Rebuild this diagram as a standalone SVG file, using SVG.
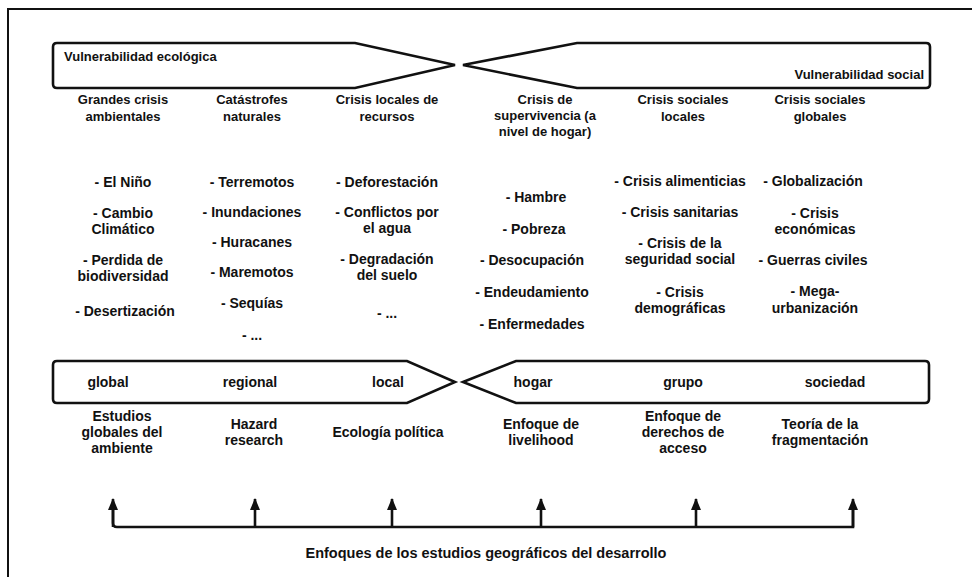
<svg xmlns="http://www.w3.org/2000/svg" width="972" height="577" viewBox="0 0 972 577">
<defs>
<style>
text{font-family:"Liberation Sans",Arial,sans-serif;font-size:13px;font-weight:bold;fill:#111;text-anchor:middle}
.l{text-anchor:start}.r{text-anchor:end}
.it{font-size:14px}
.ap{font-size:14px}
.sc{font-size:14px}
.ft{font-size:14.5px}
.band{fill:#fff;stroke:#111;stroke-width:2.6;stroke-linejoin:miter}
.frame{fill:none;stroke:#111;stroke-width:2}
.conn{fill:none;stroke:#111;stroke-width:2.6}
</style>
<marker id="ah" viewBox="0 0 12 10" refX="11" refY="5" markerWidth="12" markerHeight="10" markerUnits="userSpaceOnUse" orient="auto">
<path d="M0,0 L12,5 L0,10 Z" fill="#111"/>
</marker>
</defs>
<rect width="972" height="577" fill="#fff"/>
<path class="frame" d="M8,577 V9 H972"/>

<g id="vuln-eco">
<path class="band" d="M57,43 H355 L455,65 L355,88 H57 Q53,88 53,84 V47 Q53,43 57,43 Z"/>
<text class="l" x="64" y="61">Vulnerabilidad ecológica</text>
</g>
<g id="vuln-soc">
<path class="band" d="M463,65 L577,43 H926 Q930,43 930,47 V84 Q930,88 926,88 H577 Z"/>
<text class="r" x="924" y="79">Vulnerabilidad social</text>
</g>

<g id="col1">
<text x="123" y="104">Grandes crisis</text>
<text x="123" y="121">ambientales</text>
<text class="it" x="123" y="187">- El Niño</text>
<text class="it" x="123" y="218">- Cambio</text>
<text class="it" x="123" y="234">Climático</text>
<text class="it" x="123" y="265">- Perdida de</text>
<text class="it" x="123" y="281">biodiversidad</text>
<text class="it" x="125" y="316">- Desertización</text>
</g>
<g id="col2">
<text x="252" y="104">Catástrofes</text>
<text x="252" y="121">naturales</text>
<text class="it" x="252" y="187">- Terremotos</text>
<text class="it" x="252" y="217">- Inundaciones</text>
<text class="it" x="252" y="247">- Huracanes</text>
<text class="it" x="252" y="277">- Maremotos</text>
<text class="it" x="252" y="308">- Sequías</text>
<text class="it" x="252" y="340">- ...</text>
</g>
<g id="col3">
<text x="387" y="104">Crisis locales de</text>
<text x="387" y="121">recursos</text>
<text class="it" x="387" y="187">- Deforestación</text>
<text class="it" x="387" y="217">- Conflictos por</text>
<text class="it" x="387" y="233">el agua</text>
<text class="it" x="387" y="264">- Degradación</text>
<text class="it" x="387" y="280">del suelo</text>
<text class="it" x="387" y="318">- ...</text>
</g>
<g id="col4">
<text x="545" y="104">Crisis de</text>
<text x="545" y="120">supervivencia (a</text>
<text x="545" y="136">nivel de hogar)</text>
<text class="it" x="536" y="202">- Hambre</text>
<text class="it" x="534" y="234">- Pobreza</text>
<text class="it" x="532" y="265">- Desocupación</text>
<text class="it" x="532" y="297">- Endeudamiento</text>
<text class="it" x="532" y="329">- Enfermedades</text>
</g>
<g id="col5">
<text x="683" y="104">Crisis sociales</text>
<text x="683" y="121">locales</text>
<text class="it" x="680" y="186">- Crisis alimenticias</text>
<text class="it" x="680" y="217">- Crisis sanitarias</text>
<text class="it" x="680" y="248">- Crisis de la</text>
<text class="it" x="680" y="264">seguridad social</text>
<text class="it" x="680" y="297">- Crisis</text>
<text class="it" x="680" y="313">demográficas</text>
</g>
<g id="col6">
<text x="820" y="104">Crisis sociales</text>
<text x="820" y="121">globales</text>
<text class="it" x="813" y="186">- Globalización</text>
<text class="it" x="815" y="218">- Crisis</text>
<text class="it" x="815" y="234">económicas</text>
<text class="it" x="813" y="265">- Guerras civiles</text>
<text class="it" x="815" y="296">- Mega-</text>
<text class="it" x="815" y="313">urbanización</text>
</g>

<g id="scale-eco">
<path class="band" d="M57,361 H407 L455,382 L407,403 H57 Q53,403 53,399 V365 Q53,361 57,361 Z"/>
<text class="sc" x="108" y="387">global</text>
<text class="sc" x="250" y="387">regional</text>
<text class="sc" x="388" y="387">local</text>
</g>
<g id="scale-soc">
<path class="band" d="M463,382 L516,361 H925 Q929,361 929,365 V399 Q929,403 925,403 H516 Z"/>
<text class="sc" x="533" y="387">hogar</text>
<text class="sc" x="683" y="387">grupo</text>
<text class="sc" x="835" y="387">sociedad</text>
</g>

<g id="enfoque1">
<text class="ap" x="122" y="421">Estudios</text>
<text class="ap" x="122" y="437">globales del</text>
<text class="ap" x="122" y="453">ambiente</text>
</g>
<g id="enfoque2">
<text class="ap" x="254" y="429">Hazard</text>
<text class="ap" x="254" y="445">research</text>
</g>
<g id="enfoque3">
<text class="ap" x="388" y="437">Ecología política</text>
</g>
<g id="enfoque4">
<text class="ap" x="541" y="429">Enfoque de</text>
<text class="ap" x="541" y="445">livelihood</text>
</g>
<g id="enfoque5">
<text class="ap" x="683" y="421">Enfoque de</text>
<text class="ap" x="683" y="437">derechos de</text>
<text class="ap" x="683" y="453">acceso</text>
</g>
<g id="enfoque6">
<text class="ap" x="820" y="429">Teoría de la</text>
<text class="ap" x="820" y="445">fragmentación</text>
</g>

<g id="connectors">
<path class="conn" d="M113,509 V523 Q113,527 117,527 H853 V509"/>
<path class="conn" d="M113,527 V499" marker-end="url(#ah)"/>
<path class="conn" d="M255,527 V499" marker-end="url(#ah)"/>
<path class="conn" d="M392,527 V499" marker-end="url(#ah)"/>
<path class="conn" d="M541,527 V499" marker-end="url(#ah)"/>
<path class="conn" d="M696,527 V499" marker-end="url(#ah)"/>
<path class="conn" d="M853,527 V499" marker-end="url(#ah)"/>
</g>

<g id="footer">
<text class="ft" x="486" y="558">Enfoques de los estudios geográficos del desarrollo</text>
</g>
</svg>
